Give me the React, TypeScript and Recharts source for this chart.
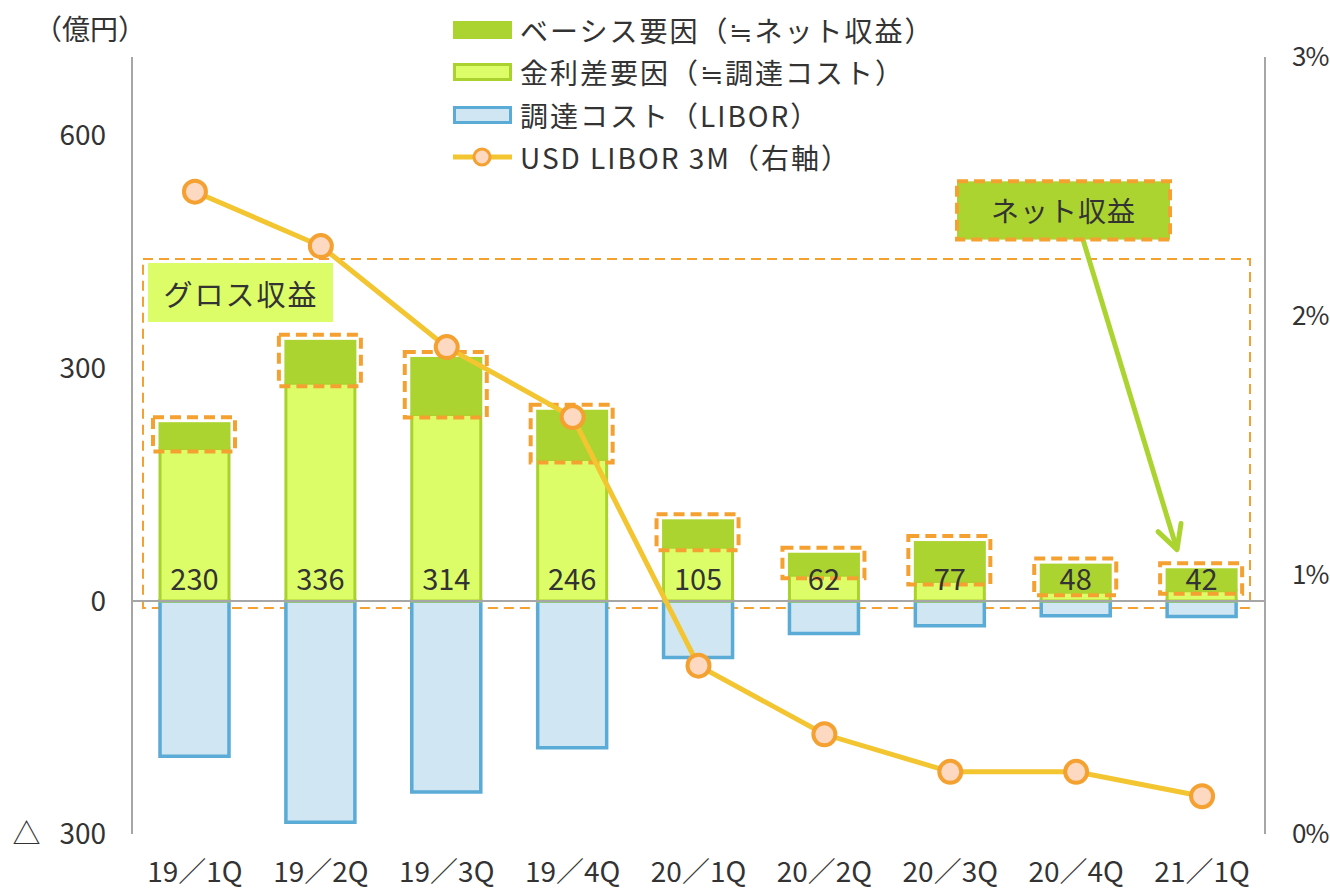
import {
  ComposedChart,
  Bar,
  Line,
  XAxis,
  YAxis,
  ReferenceLine,
  ReferenceArea,
  Legend,
  LabelList,
} from "recharts";

const FONT = '"Noto Sans CJK JP", "Noto Sans", sans-serif';
const TEXT = "#333333";

const QUARTERS = ["19／1Q", "19／2Q", "19／3Q", "19／4Q", "20／1Q", "20／2Q", "20／3Q", "20／4Q", "21／1Q"];
// ベーシス要因 (≒ネット収益)
const BASIS = [34, 56, 74, 64, 36, 29, 52, 37, 29];
// 金利差要因 (≒調達コスト)
const SPREAD = [196, 280, 240, 182, 69, 33, 25, 11, 13];
// 調達コスト (LIBOR)
const COST = [-200, -285, -246, -189, -73, -42, -32, -19, -20];
// labels printed in the bars
const TOTAL = [230, 336, 314, 246, 105, 62, 77, 48, 42];
// USD LIBOR 3M, %
const LIBOR = [2.48, 2.27, 1.88, 1.61, 0.65, 0.385, 0.24, 0.24, 0.146];

const LEFT_TICKS = [-300, 0, 300, 600];
const RIGHT_TICKS = [0, 1, 2, 3];

const data = QUARTERS.map((q, i) => ({
  q,
  basis: BASIS[i],
  spread: SPREAD[i],
  cost: COST[i],
  total: TOTAL[i],
  libor: LIBOR[i],
}));

const GREEN = "#acd430";
const LIGHT = "#dcfd68";
const LIGHT_EDGE = "#a9d22e";
const BLUE_FILL = "#d0e6f2";
const BLUE_EDGE = "#5aabd6";
const ORANGE = "#f4a131";
const LINE = "#f2c531";
const DOT = "#fcd9c0";

// eslint-disable-next-line @typescript-eslint/no-explicit-any
function BasisShape(props: any) {
  const { x, y, width, height } = props;
  return (
    <g>
      <rect x={x - 1.5} y={y} width={width + 3} height={height} fill={GREEN} />
      <rect
        x={x - 7}
        y={y - 5}
        width={width + 13}
        height={height + 8}
        fill="none"
        stroke={ORANGE}
        strokeWidth={4}
        strokeDasharray="11 6"
      />
    </g>
  );
}

// eslint-disable-next-line @typescript-eslint/no-explicit-any
function TotalLabel(props: any) {
  const { x, y, width, height, value } = props;
  return (
    <text
      x={x + width / 2}
      y={y + height - 24}
      textAnchor="middle"
      dominantBaseline="central"
      fontFamily={FONT}
      fontSize={29}
      fill={TEXT}
    >
      {value}
    </text>
  );
}

// eslint-disable-next-line @typescript-eslint/no-explicit-any
function GrossBox(props: any) {
  const { x, y, width, height } = props;
  return (
    <g>
      <rect
        x={x + 11}
        y={y}
        width={width - 26}
        height={height}
        fill="none"
        stroke={ORANGE}
        strokeWidth={2}
        strokeDasharray="10 6"
      />
      <rect x={x + 16} y={y + 4} width={185} height={59} fill={LIGHT} />
      <text
        x={x + 16 + 93}
        y={y + 4 + 30}
        textAnchor="middle"
        dominantBaseline="central"
        fontFamily={FONT}
        fontSize={29}
        letterSpacing={2}
        fill={TEXT}
      >
        グロス収益
      </text>
    </g>
  );
}

// eslint-disable-next-line @typescript-eslint/no-explicit-any
function NetBox(props: any) {
  const { x, y, height } = props;
  const bx = x + 825;
  const bw = 213;
  const sx = x + 951;
  const sy = y + height;
  const ex = sx + 94;
  const ey = sy + 310;
  return (
    <g>
      <line x1={sx} y1={sy} x2={ex} y2={ey} stroke={GREEN} strokeWidth={5} />
      <polyline
        points={`${ex - 19},${ey - 18} ${ex},${ey} ${ex + 4},${ey - 26}`}
        fill="none"
        stroke={GREEN}
        strokeWidth={5}
        strokeLinecap="round"
        strokeLinejoin="round"
      />
      <rect
        x={bx}
        y={y}
        width={bw}
        height={height}
        fill={GREEN}
        stroke={ORANGE}
        strokeWidth={4}
        strokeDasharray="11 6"
      />
      <text
        x={bx + bw / 2}
        y={y + height / 2}
        textAnchor="middle"
        dominantBaseline="central"
        fontFamily={FONT}
        fontSize={28}
        letterSpacing={1}
        fill={TEXT}
      >
        ネット収益
      </text>
    </g>
  );
}

// eslint-disable-next-line @typescript-eslint/no-explicit-any
function UnitLabel(props: any) {
  const { viewBox } = props;
  return (
    <text
      x={viewBox.x + viewBox.width + 14}
      y={viewBox.y - 17}
      textAnchor="end"
      fontFamily={FONT}
      fontSize={28}
      fill={TEXT}
    >
      （億円）
    </text>
  );
}

const LEGEND_ITEMS = [
  { label: "ベーシス要因（≒ネット収益）", kind: "basis" },
  { label: "金利差要因（≒調達コスト）", kind: "spread" },
  { label: "調達コスト（LIBOR）", kind: "cost" },
  { label: "USD LIBOR 3M（右軸）", kind: "libor" },
];

function LegendIcon({ kind }: { kind: string }) {
  return (
    <svg width={62} height={24} style={{ display: "block" }}>
      {kind === "basis" && <rect x={1} y={3} width={59} height={18} fill={GREEN} />}
      {kind === "spread" && (
        <rect x={2.5} y={4.5} width={56} height={15} fill={LIGHT} stroke={LIGHT_EDGE} strokeWidth={3} />
      )}
      {kind === "cost" && (
        <rect x={2.5} y={4.5} width={56} height={15} fill={BLUE_FILL} stroke={BLUE_EDGE} strokeWidth={3} />
      )}
      {kind === "libor" && (
        <g>
          <line x1={1} y1={12} x2={60} y2={12} stroke={LINE} strokeWidth={5} />
          <circle cx={30} cy={12} r={8} fill={DOT} stroke={ORANGE} strokeWidth={3} />
        </g>
      )}
    </svg>
  );
}

function LegendContent() {
  return (
    <div style={{ fontFamily: FONT, fontSize: 28, color: TEXT }}>
      {LEGEND_ITEMS.map((it) => (
        <div key={it.kind} style={{ display: "flex", alignItems: "center", height: 42.3 }}>
          <LegendIcon kind={it.kind} />
          <span style={{ marginLeft: 6, whiteSpace: "nowrap", letterSpacing: 2 }}>{it.label}</span>
        </div>
      ))}
    </div>
  );
}

export default function App() {
  const tick = { fontFamily: FONT, fontSize: 28, fill: TEXT };
  return (
    <div style={{ position: "absolute", left: 0, top: 0, background: "#fff" }}>
      <ComposedChart
        width={1330}
        height={890}
        data={data}
        stackOffset="sign"
        margin={{ top: 57, right: 0, bottom: 0, left: 12 }}
      >
        <XAxis
          dataKey="q"
          axisLine={false}
          tickLine={false}
          tickSize={0}
          tickMargin={28}
          height={56}
          tick={tick}
          interval={0}
        />
        <YAxis
          yAxisId="left"
          domain={[-300, 700]}
          ticks={LEFT_TICKS}
          width={120}
          tickLine={false}
          tickSize={0}
          tickMargin={26}
          axisLine={{ stroke: "#a6a6a6", strokeWidth: 2 }}
          tick={tick}
          tickFormatter={(v: number) => (v < 0 ? `△\u00a0\u00a0\u00a0${Math.abs(v)}` : `${v}`)}
          label={{ content: UnitLabel }}
        />
        <YAxis
          yAxisId="right"
          orientation="right"
          domain={[0, 3]}
          ticks={RIGHT_TICKS}
          width={65}
          tickLine={false}
          tickSize={0}
          tickMargin={27}
          axisLine={{ stroke: "#a6a6a6", strokeWidth: 2 }}
          tick={{ ...tick, fontSize: 26, textAnchor: "start", letterSpacing: -1 }}
          tickFormatter={(v: number) => `${v}%`}
        />
        <Legend
          layout="vertical"
          align="center"
          verticalAlign="middle"
          content={LegendContent}
          wrapperStyle={{ top: 9, left: 452, width: 540 }}
        />
        <Bar
          yAxisId="left"
          dataKey="cost"
          stackId="a"
          barSize={69}
          fill={BLUE_FILL}
          stroke={BLUE_EDGE}
          strokeWidth={3.5}
          isAnimationActive={false}
        />
        <Bar
          yAxisId="left"
          dataKey="spread"
          stackId="a"
          barSize={69}
          fill={LIGHT}
          stroke={LIGHT_EDGE}
          strokeWidth={3}
          isAnimationActive={false}
        >
          <LabelList dataKey="total" content={TotalLabel} />
        </Bar>
        <Bar
          yAxisId="left"
          dataKey="basis"
          stackId="a"
          barSize={69}
          fill={GREEN}
          shape={BasisShape}
          isAnimationActive={false}
        />
        <ReferenceLine yAxisId="left" y={0} stroke="#a6a6a6" strokeWidth={2} />
        <ReferenceArea yAxisId="left" y1={-9} y2={440} ifOverflow="visible" shape={GrossBox} />
        <ReferenceArea yAxisId="left" y1={465} y2={540} ifOverflow="visible" shape={NetBox} />
        <Line
          yAxisId="right"
          dataKey="libor"
          stroke={LINE}
          strokeWidth={5}
          dot={{ r: 11, fill: DOT, stroke: ORANGE, strokeWidth: 4 }}
          isAnimationActive={false}
        />
      </ComposedChart>
    </div>
  );
}
